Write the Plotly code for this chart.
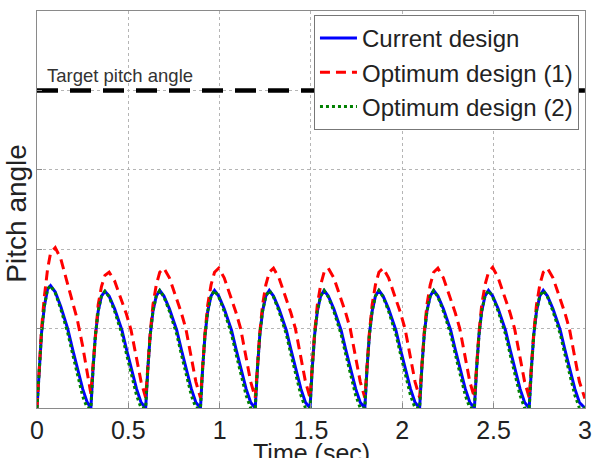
import plotly.graph_objects as go

# ---- data ----
time_s = [
    0.000, 0.012, 0.025, 0.040, 0.058, 0.074, 0.100, 0.130, 0.168, 0.195, 0.220, 0.250, 0.275,
    0.295, 0.307, 0.320, 0.335, 0.353, 0.372, 0.395, 0.425, 0.465, 0.490, 0.515, 0.545, 0.570,
    0.595, 0.607, 0.620, 0.635, 0.653, 0.672, 0.695, 0.725, 0.765, 0.790, 0.815, 0.845, 0.870,
    0.895, 0.907, 0.920, 0.935, 0.953, 0.972, 0.995, 1.025, 1.065, 1.090, 1.115, 1.145, 1.170,
    1.195, 1.207, 1.220, 1.235, 1.253, 1.272, 1.295, 1.325, 1.365, 1.390, 1.415, 1.445, 1.470,
    1.495, 1.507, 1.520, 1.535, 1.553, 1.572, 1.595, 1.625, 1.665, 1.690, 1.715, 1.745, 1.770,
    1.795, 1.807, 1.820, 1.835, 1.853, 1.872, 1.895, 1.925, 1.965, 1.990, 2.015, 2.045, 2.070,
    2.095, 2.107, 2.120, 2.135, 2.153, 2.172, 2.195, 2.225, 2.265, 2.290, 2.315, 2.345, 2.370,
    2.395, 2.407, 2.420, 2.435, 2.453, 2.472, 2.495, 2.525, 2.565, 2.590, 2.615, 2.645, 2.670,
    2.695, 2.707, 2.720, 2.735, 2.753, 2.772, 2.795, 2.825, 2.865, 2.890, 2.915, 2.945, 2.970,
    3.000,
]

current_design = [
    0.00, 0.52, 0.95, 1.28, 1.50, 1.54, 1.46, 1.28, 1.00, 0.74, 0.50, 0.24, 0.07,
    0.00, 0.50, 0.92, 1.22, 1.41, 1.47, 1.41, 1.25, 0.98, 0.74, 0.50, 0.24, 0.07,
    0.00, 0.50, 0.92, 1.22, 1.41, 1.48, 1.41, 1.25, 0.98, 0.74, 0.50, 0.24, 0.07,
    0.00, 0.50, 0.92, 1.22, 1.41, 1.48, 1.41, 1.25, 0.98, 0.74, 0.50, 0.24, 0.07,
    0.00, 0.50, 0.92, 1.22, 1.41, 1.48, 1.41, 1.25, 0.98, 0.74, 0.50, 0.24, 0.07,
    0.00, 0.50, 0.92, 1.22, 1.41, 1.48, 1.41, 1.25, 0.98, 0.74, 0.50, 0.24, 0.07,
    0.00, 0.50, 0.92, 1.22, 1.41, 1.48, 1.41, 1.25, 0.98, 0.74, 0.50, 0.24, 0.07,
    0.00, 0.50, 0.92, 1.22, 1.41, 1.48, 1.41, 1.25, 0.98, 0.74, 0.50, 0.24, 0.07,
    0.00, 0.50, 0.92, 1.22, 1.41, 1.48, 1.41, 1.25, 0.98, 0.74, 0.50, 0.24, 0.07,
    0.00, 0.50, 0.92, 1.22, 1.41, 1.48, 1.41, 1.25, 0.98, 0.74, 0.50, 0.24, 0.07,
    0.00,
]

optimum_design_1 = [
    0.00, 0.55, 1.00, 1.40, 1.75, 1.95, 2.02, 1.88, 1.56, 1.35, 1.12, 0.78, 0.45,
    0.18, 0.55, 0.95, 1.30, 1.53, 1.67, 1.71, 1.60, 1.34, 1.18, 0.98, 0.62, 0.33,
    0.13, 0.55, 0.95, 1.30, 1.55, 1.71, 1.76, 1.64, 1.37, 1.20, 1.00, 0.63, 0.33,
    0.13, 0.55, 0.95, 1.30, 1.55, 1.71, 1.76, 1.64, 1.37, 1.20, 1.00, 0.63, 0.33,
    0.13, 0.55, 0.95, 1.30, 1.55, 1.71, 1.76, 1.64, 1.37, 1.20, 1.00, 0.63, 0.33,
    0.13, 0.55, 0.95, 1.30, 1.55, 1.71, 1.76, 1.64, 1.37, 1.20, 1.00, 0.63, 0.33,
    0.13, 0.55, 0.95, 1.30, 1.55, 1.71, 1.76, 1.64, 1.37, 1.20, 1.00, 0.63, 0.33,
    0.13, 0.55, 0.95, 1.30, 1.55, 1.71, 1.76, 1.64, 1.37, 1.20, 1.00, 0.63, 0.33,
    0.13, 0.55, 0.95, 1.30, 1.55, 1.71, 1.77, 1.64, 1.37, 1.20, 1.00, 0.63, 0.33,
    0.13, 0.55, 0.95, 1.30, 1.55, 1.71, 1.76, 1.64, 1.37, 1.20, 1.00, 0.63, 0.33,
    0.12,
]

optimum_design_2 = [
    0.00, 0.52, 0.95, 1.28, 1.50, 1.54, 1.45, 1.25, 0.95, 0.68, 0.42, 0.15, 0.00,
    0.00, 0.50, 0.92, 1.22, 1.41, 1.47, 1.40, 1.22, 0.93, 0.68, 0.43, 0.16, 0.00,
    0.00, 0.50, 0.92, 1.22, 1.41, 1.48, 1.40, 1.22, 0.93, 0.68, 0.43, 0.16, 0.00,
    0.00, 0.50, 0.92, 1.22, 1.41, 1.48, 1.40, 1.22, 0.93, 0.68, 0.43, 0.16, 0.00,
    0.00, 0.50, 0.92, 1.22, 1.41, 1.48, 1.40, 1.22, 0.93, 0.68, 0.43, 0.16, 0.00,
    0.00, 0.50, 0.92, 1.22, 1.41, 1.48, 1.40, 1.22, 0.93, 0.68, 0.43, 0.16, 0.00,
    0.00, 0.50, 0.92, 1.22, 1.41, 1.48, 1.40, 1.22, 0.93, 0.68, 0.43, 0.16, 0.00,
    0.00, 0.50, 0.92, 1.22, 1.41, 1.48, 1.40, 1.22, 0.93, 0.68, 0.43, 0.16, 0.00,
    0.00, 0.50, 0.92, 1.22, 1.41, 1.48, 1.40, 1.22, 0.93, 0.68, 0.43, 0.16, 0.00,
    0.00, 0.50, 0.92, 1.22, 1.41, 1.48, 1.40, 1.22, 0.93, 0.68, 0.43, 0.16, 0.00,
    0.00,
]

target_time = [0.0, 3.0]
target_pitch = [4.0, 4.0]

series_names = ["Current design", "Optimum design (1)", "Optimum design (2)"]
x_ticks = [0, 0.5, 1, 1.5, 2, 2.5, 3]
x_tick_labels = ["0", "0.5", "1", "1.5", "2", "2.5", "3"]
y_grid = [0, 1, 2, 3, 4, 5]

FONT = "Liberation Sans, Arial, sans-serif"

fig = go.Figure()
fig.add_trace(go.Scatter(x=target_time, y=target_pitch, mode="lines", showlegend=False,
                         line=dict(color="black", width=4.5, dash="21px,12px")))
fig.add_trace(go.Scatter(x=time_s, y=current_design, mode="lines", name=series_names[0],
                         line=dict(color="#0000ff", width=3)))
fig.add_trace(go.Scatter(x=time_s, y=optimum_design_1, mode="lines", name=series_names[1],
                         line=dict(color="#ff0000", width=3, dash="10px,6px")))
fig.add_trace(go.Scatter(x=time_s, y=optimum_design_2, mode="lines", name=series_names[2],
                         line=dict(color="#008000", width=3, dash="dot")))

axis_common = dict(showline=True, mirror=True, linecolor="#8a8a8a", linewidth=1,
                   showgrid=True, gridcolor="#b5b5b5", griddash="dot", gridwidth=1,
                   zeroline=False, ticks="inside", ticklen=5, tickcolor="#8a8a8a")

fig.update_xaxes(range=[0, 3.0005], tickvals=x_ticks, ticktext=x_tick_labels,
                 ticklabeloverflow="allow",
                 tickfont=dict(family=FONT, size=25, color="#222222"), **axis_common)
fig.update_yaxes(range=[0, 5], tickvals=y_grid, showticklabels=False, **axis_common)

fig.add_annotation(text="Target pitch angle", x=0.045, y=4.19, xref="x", yref="y",
                   xanchor="left", yanchor="middle", showarrow=False,
                   font=dict(family=FONT, size=18.5, color="#333333"))
fig.add_annotation(text="Time (sec)", x=0.5, y=-0.072, xref="paper", yref="paper",
                   xanchor="center", yanchor="top", showarrow=False,
                   font=dict(family=FONT, size=25, color="#222222"))
fig.add_annotation(text="Pitch angle", x=-0.038, y=0.49, xref="paper", yref="paper",
                   xanchor="center", yanchor="middle", textangle=-90, showarrow=False,
                   font=dict(family=FONT, size=28, color="#222222"))

fig.update_layout(
    width=598, height=458,
    margin=dict(l=37, r=6, t=11, b=50),
    paper_bgcolor="white", plot_bgcolor="white",
    font=dict(family=FONT, color="#222222"),
    legend=dict(x=0.989, y=0.99, xanchor="right", yanchor="top",
                bgcolor="white", bordercolor="#777777", borderwidth=1,
                font=dict(family=FONT, size=24, color="#222222"),
                itemwidth=37, tracegroupgap=0),
)

fig.write_html("out.html")
